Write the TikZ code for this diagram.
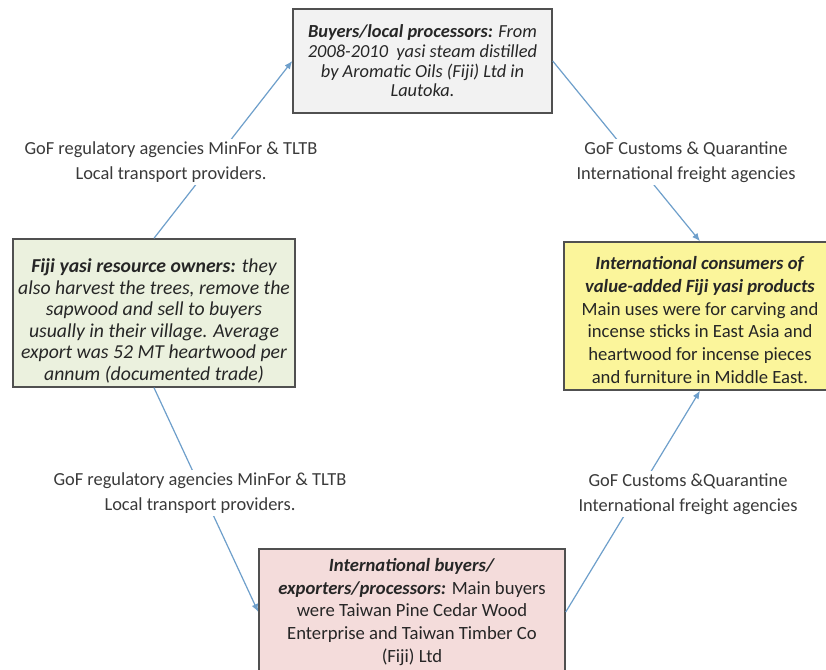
\documentclass[tikz,border=0pt]{standalone}
\usepackage{fontspec}
\setmainfont{Carlito}
\usetikzlibrary{arrows.meta}
\definecolor{boxborder}{HTML}{505050}
\definecolor{grayfill}{HTML}{F2F2F2}
\definecolor{greenfill}{HTML}{EBF1DE}
\definecolor{yellowfill}{HTML}{FBF59B}
\definecolor{pinkfill}{HTML}{F4DCDB}
\definecolor{arrowblue}{HTML}{6E9FCB}
\definecolor{textdark}{HTML}{262626}
\definecolor{labelgray}{HTML}{3A3A3A}
\tikzset{
  infobox/.style={draw=boxborder, line width=1.1pt, align=center, inner sep=0pt,
    text=textdark},
  boxtext/.style={align=center, inner sep=0pt, text=textdark},
  flow/.style={draw=arrowblue, line width=0.9pt, -{Latex[length=6pt,width=5pt]}},
  agency/.style={fill=white, align=center, inner sep=2pt, text=labelgray,
    font=\fontsize{13.8}{18.5}\selectfont}
}
\begin{document}
\begin{tikzpicture}[x=0.75pt,y=-0.75pt]
\clip (0,0) rectangle (826,670);
\fill[white] (0,0) rectangle (826,670);

\node[infobox, fill=grayfill, minimum width=259*0.75pt, minimum height=104*0.75pt,
  font=\fontsize{13.8}{14.8}\selectfont\itshape] (T) at (422.5,61)
  {\textbf{Buyers/local processors:} From\\ 2008-2010~~yasi steam distilled\\ by Aromatic Oils (Fiji) Ltd in\\ Lautoka.};

\node[infobox, fill=greenfill, minimum width=282*0.75pt, minimum height=148*0.75pt] (L) at (154,313) {};
\node[boxtext, font=\fontsize{14.8}{16.2}\selectfont\itshape] (Ltext) at (154,321)
  {\textbf{Fiji yasi resource owners:} they\\ also harvest the trees, remove the\\ sapwood and sell to buyers\\ usually in their village. Average\\ export was 52 MT heartwood per\\ annum (documented trade)};

\node[infobox, fill=yellowfill, minimum width=272*0.75pt, minimum height=148*0.75pt] (R) at (700,316) {};
\node[boxtext, font=\fontsize{14}{17.2}\selectfont] (Rtext) at (700,320)
  {\textbf{\textit{International consumers of}}\\ \textbf{\textit{value-added Fiji yasi products}}\\ Main uses were for carving and\\ incense sticks in East Asia and\\ heartwood for incense pieces\\ and furniture in Middle East.};

\node[infobox, fill=pinkfill, minimum width=306*0.75pt, minimum height=126*0.75pt,
  font=\fontsize{14}{16.9}\selectfont] (B) at (412,612)
  {\textbf{\textit{International buyers/}}\\ \textbf{\textit{exporters/processors:}} Main buyers\\ were Taiwan Pine Cedar Wood\\ Enterprise and Taiwan Timber Co\\ (Fiji) Ltd};

\draw[flow] (L.north) -- (T.west);
\draw[flow] (T.east) -- (R.north);
\draw[flow] (L.south) -- (B.west);
\draw[flow] (B.east) -- (R.south);

\node[agency] (a1) at (171,162) {GoF regulatory agencies MinFor \& TLTB\\ Local transport providers.};
\node[agency] (a2) at (686,162) {GoF Customs \& Quarantine\\ International freight agencies};
\node[agency] (a3) at (200,493) {GoF regulatory agencies MinFor \& TLTB\\ Local transport providers.};
\node[agency] (a4) at (688,494) {GoF Customs \&Quarantine\\ International freight agencies};
\end{tikzpicture}
\end{document}
